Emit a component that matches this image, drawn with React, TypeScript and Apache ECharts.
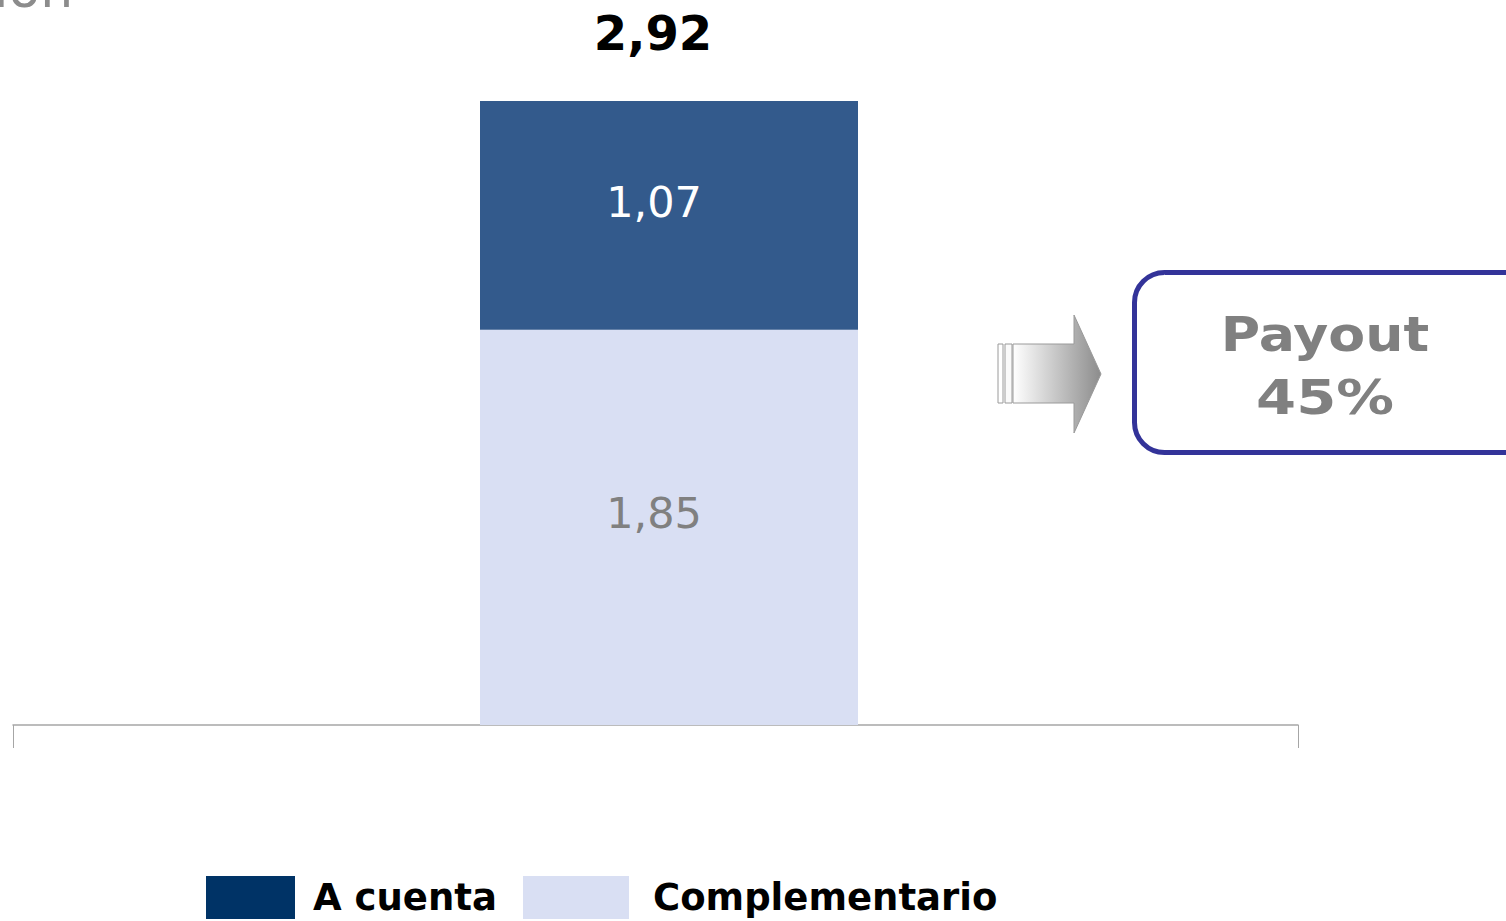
import React, { useEffect, useRef } from "react";
import * as echarts from "echarts";

const categories = ["Dividendo"];
const aCuenta = [1.07];
const complementario = [1.85];
const payoutLabel = ["Payout", "45%"];
const seriesNames = ["A cuenta", "Complementario"];

const fmt = (v: number) => v.toFixed(2).replace(".", ",");
const FONT = "'DejaVu Sans', Verdana, sans-serif";

export default function App() {
  const ref = useRef<HTMLDivElement>(null);
  useEffect(() => {
    if (!ref.current) return;
    const chart = echarts.init(ref.current, null, { renderer: "svg" });
    const totals = aCuenta.map((v, i) => v + complementario[i]);
    chart.setOption({
      animation: false,
      textStyle: { fontFamily: FONT },
      grid: { left: 13, right: 208, top: 84, bottom: 196, containLabel: false },
      xAxis: {
        type: "category",
        data: categories,
        axisLine: { show: true, lineStyle: { color: "#A6A6A6", width: 1.5 } },
        axisTick: { show: true, length: 23, lineStyle: { color: "#A6A6A6", width: 1 } },
        axisLabel: { show: false },
      },
      yAxis: {
        type: "value",
        min: 0,
        max: 3,
        show: false,
        splitLine: { show: false },
      },
      legend: [
        {
          data: [{ name: seriesNames[0], itemStyle: { color: "#003366" } }],
          left: 206,
          top: 876,
          padding: 0,
          itemWidth: 89,
          itemHeight: 43,
          icon: "rect",
          selectedMode: false,
          textStyle: { fontFamily: FONT, fontSize: 37, fontWeight: "bold", color: "#000", padding: [7, 0, 0, 13] },
        },
        {
          data: [{ name: seriesNames[1], itemStyle: { color: "#D9DFF3" } }],
          left: 523,
          top: 876,
          padding: 0,
          itemWidth: 106,
          itemHeight: 43,
          icon: "rect",
          selectedMode: false,
          textStyle: { fontFamily: FONT, fontSize: 37, fontWeight: "bold", color: "#000", padding: [7, 0, 0, 19] },
        },
      ],
      series: [
        {
          name: "pad",
          type: "bar",
          stack: "pad",
          barWidth: 27,
          barGap: 0,
          data: ["-"],
          itemStyle: { color: "transparent" },
          silent: true,
        },
        {
          name: seriesNames[1],
          type: "bar",
          stack: "main",
          barWidth: 378,
          barGap: 0,
          data: complementario,
          itemStyle: { color: "#D9DFF3" },
          label: {
            show: true,
            position: "inside",
            offset: [-15, -14],
            formatter: (p: any) => fmt(p.value),
            fontSize: 43,
            color: "#808080",
            fontFamily: FONT,
          },
        },
        {
          name: seriesNames[0],
          type: "bar",
          stack: "main",
          barWidth: 378,
          barGap: 0,
          data: aCuenta,
          itemStyle: { color: "#335A8C" },
          label: {
            show: true,
            position: "inside",
            offset: [-15, -13],
            formatter: (p: any) => fmt(p.value),
            fontSize: 43,
            color: "#FFFFFF",
            fontFamily: FONT,
          },
        },
        {
          name: "total",
          type: "bar",
          stack: "main",
          barWidth: 378,
          barGap: 0,
          data: totals.map(() => 0),
          itemStyle: { color: "transparent" },
          label: {
            show: true,
            position: "top",
            distance: 44,
            offset: [-16, 0],
            formatter: (p: any) => fmt(totals[p.dataIndex]),
            fontSize: 48,
            fontWeight: "bold",
            color: "#000000",
            fontFamily: FONT,
          },
        },
      ],
      graphic: [
        {
          type: "text",
          left: -6,
          top: -37,
          style: { text: "ión", fontSize: 52, fill: "#8C8C8C", fontFamily: FONT },
        },
        {
          type: "rect",
          shape: { x: 998, y: 344, width: 5, height: 59 },
          style: { fill: "#FFFFFF", stroke: "#9A9A9A", lineWidth: 1 },
        },
        {
          type: "rect",
          shape: { x: 1005, y: 344, width: 7, height: 59 },
          style: { fill: "#FAFAFA", stroke: "#9A9A9A", lineWidth: 1 },
        },
        {
          type: "polygon",
          shape: {
            points: [
              [1013, 344],
              [1074, 344],
              [1074, 315],
              [1101, 374],
              [1074, 433],
              [1074, 403],
              [1013, 403],
            ],
          },
          style: {
            fill: new echarts.graphic.LinearGradient(0, 0, 1, 0, [
              { offset: 0, color: "#FFFFFF" },
              { offset: 1, color: "#8C8C8C" },
            ]),
            stroke: "#9A9A9A",
            lineWidth: 1,
          },
        },
        {
          type: "rect",
          shape: { x: 1134.5, y: 272.5, width: 400, height: 180, r: 30 },
          style: { fill: "#FFFFFF", stroke: "#333399", lineWidth: 5 },
        },
        {
          type: "text",
          x: 1325,
          y: 335,
          scaleX: 1.12,
          style: {
            text: payoutLabel[0],
            fontSize: 48,
            fontWeight: "bold",
            fill: "#808080",
            fontFamily: FONT,
            align: "center",
            verticalAlign: "middle",
          },
        },
        {
          type: "text",
          x: 1325,
          y: 398,
          scaleX: 1.2,
          style: {
            text: payoutLabel[1],
            fontSize: 48,
            fontWeight: "bold",
            fill: "#808080",
            fontFamily: FONT,
            align: "center",
            verticalAlign: "middle",
          },
        },
      ],
    });
    return () => chart.dispose();
  }, []);
  return (
    <div
      ref={ref}
      style={{ position: "fixed", left: 0, top: 0, width: 1506, height: 921, background: "#fff" }}
    />
  );
}
